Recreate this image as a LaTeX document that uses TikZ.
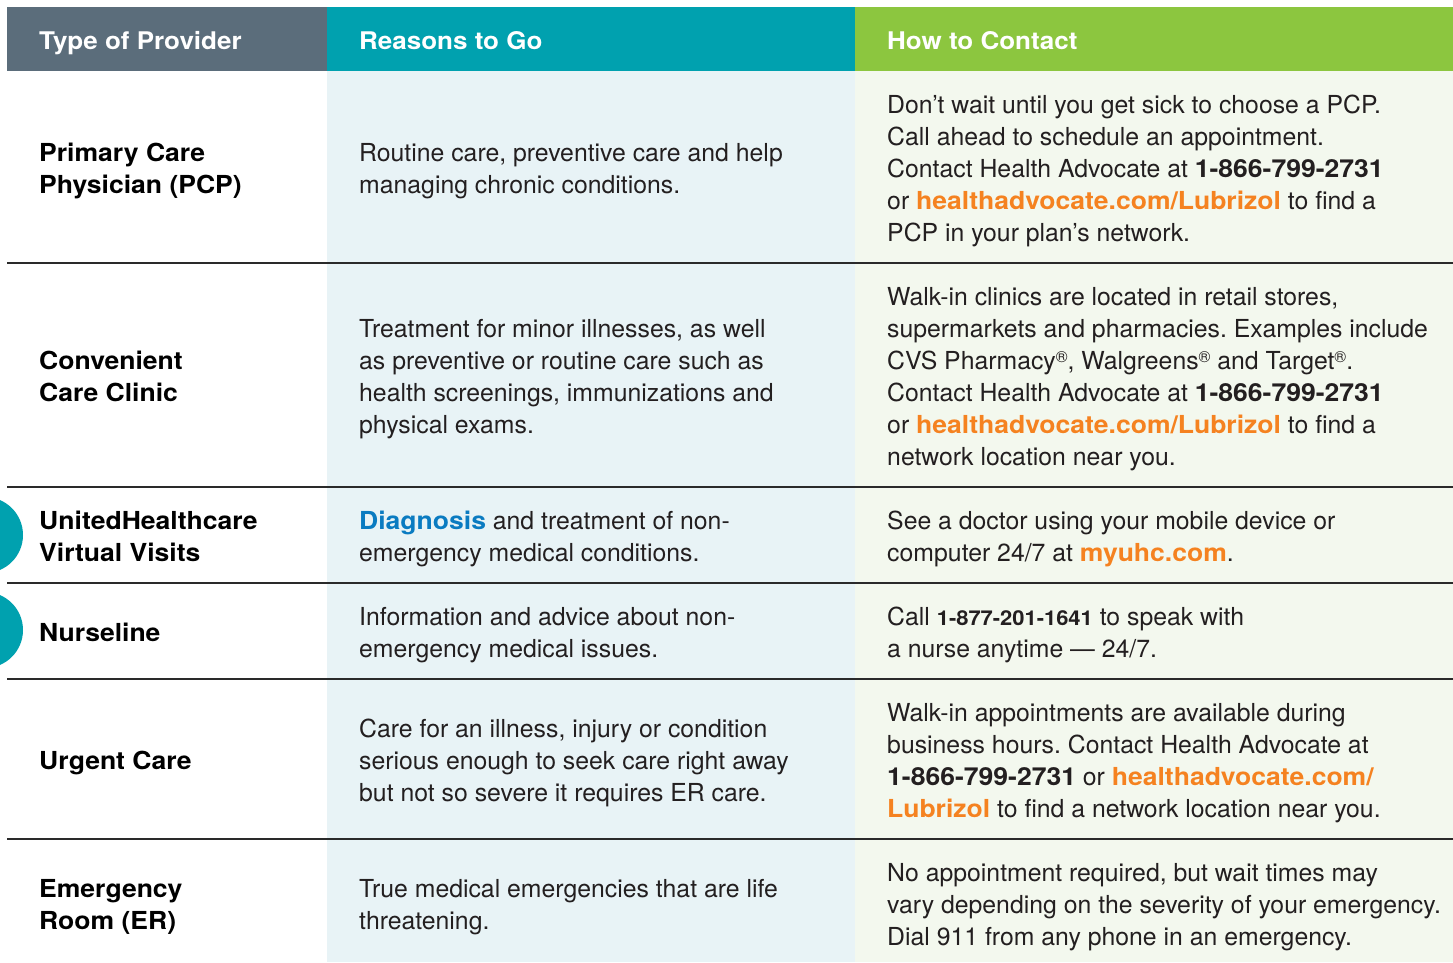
\documentclass[tikz,border=0pt]{standalone}
\usepackage{fontspec}
\setmainfont{TeX Gyre Heros}[BoldFeatures={FakeStretch=1.07}]
\definecolor{hdrgray}{HTML}{5B6D7B}
\definecolor{hdrteal}{HTML}{00A1AF}
\definecolor{hdrgreen}{HTML}{8CC63F}
\definecolor{midbg}{HTML}{E8F3F6}
\definecolor{rightbg}{HTML}{F3F8EE}
\definecolor{ink}{HTML}{231F20}
\definecolor{linkorange}{HTML}{F58220}
\definecolor{linkblue}{HTML}{0A7BC1}
\definecolor{rulecol}{HTML}{2A2A2A}
\frenchspacing
\newcommand{\fs}{\rule{0pt}{20pt}}
\newcommand{\org}[1]{\textcolor{linkorange}{\textbf{#1}}}
\newcommand{\regmark}{\raisebox{7pt}{\fontsize{16}{16}\selectfont ®}}
\tikzset{
  cell/.style={anchor=north west, inner sep=0pt, align=left, text=ink,
    font=\fontsize{24.8}{32}\selectfont},
  namecell/.style={cell, font=\fontsize{24.8}{32}\selectfont\bfseries, text=black},
  hdr/.style={anchor=base west, inner sep=0pt, text=white,
    font=\fontsize{24.3}{32}\selectfont\bfseries},
  rowrule/.style={draw=rulecol, line width=1.6pt},
}
\begin{document}
\begin{tikzpicture}[x=1pt,y=-1pt]
\useasboundingbox (0,0) rectangle (1453,962);
\fill[white] (0,0) rectangle (1453,962);
% column backgrounds
\fill[midbg] (327,71) rectangle (855,962);
\fill[rightbg] (855,71) rectangle (1453,962);
% header
\fill[hdrgray] (7,7) rectangle (327,71);
\fill[hdrteal] (327,7) rectangle (855,71);
\fill[hdrgreen] (855,7) rectangle (1453,71);
\node[hdr] (h1) at (39,49) {Type of Provider};
\node[hdr] (h2) at (359,49) {Reasons to Go};
\node[hdr] (h3) at (887,49) {How to Contact};
% row rules
\draw[rowrule] (7,263) -- (1453,263);
\draw[rowrule] (7,487) -- (1453,487);
\draw[rowrule] (7,583) -- (1453,583);
\draw[rowrule] (7,679) -- (1453,679);
\draw[rowrule] (7,839) -- (1453,839);
% side circles
\fill[hdrteal] (-15,535) circle (38);
\fill[hdrteal] (-15,630) circle (38);
% row 1
\node[namecell] (r1a) at (39,141) {\fs Primary Care\\Physician (PCP)};
\node[cell] (r1b) at (359,141) {\fs Routine care, preventive care and help\\managing chronic conditions.};
\node[cell] (r1c) at (887,93) {\fs Don’t wait until you get sick to choose a PCP.\\Call ahead to schedule an appointment.\\Contact Health Advocate at \textbf{1-866-799-2731}\\or \org{healthadvocate.com/Lubrizol} to find a\\PCP in your plan’s network.};
% row 2
\node[namecell] (r2a) at (39,349) {\fs Convenient\\Care Clinic};
\node[cell] (r2b) at (359,317) {\fs Treatment for minor illnesses, as well\\as preventive or routine care such as\\health screenings, immunizations and\\physical exams.};
\node[cell] (r2c) at (887,285) {\fs Walk-in clinics are located in retail stores,\\supermarkets and pharmacies. Examples include\\CVS Pharmacy\regmark, Walgreens\regmark{} and Target\regmark.\\Contact Health Advocate at \textbf{1-866-799-2731}\\or \org{healthadvocate.com/Lubrizol} to find a\\network location near you.};
% row 3
\node[namecell] (r3a) at (39,509) {\fs UnitedHealthcare\\Virtual Visits};
\node[cell] (r3b) at (359,509) {\fs \textcolor{linkblue}{\textbf{Diagnosis}} and treatment of non-\\emergency medical conditions.};
\node[cell] (r3c) at (887,509) {\fs See a doctor using your mobile device or\\computer 24/7 at \org{myuhc.com}.};
% row 4
\node[namecell] (r4a) at (39,621) {\fs Nurseline};
\node[cell] (r4b) at (359,605) {\fs Information and advice about non-\\emergency medical issues.};
\node[cell] (r4c) at (887,605) {\fs Call \textbf{\fontsize{20.5}{32}\selectfont 1-877-201-1641} to speak with\\a nurse anytime — 24/7.};
% row 5
\node[namecell] (r5a) at (39,749) {\fs Urgent Care};
\node[cell] (r5b) at (359,717) {\fs Care for an illness, injury or condition\\serious enough to seek care right away\\but not so severe it requires ER care.};
\node[cell] (r5c) at (887,701) {\fs Walk-in appointments are available during\\business hours. Contact Health Advocate at\\\textbf{1-866-799-2731} or \org{healthadvocate.com/}\\\org{Lubrizol} to find a network location near you.};
% row 6
\node[namecell] (r6a) at (39,877) {\fs Emergency\\Room (ER)};
\node[cell] (r6b) at (359,877) {\fs True medical emergencies that are life\\threatening.};
\node[cell] (r6c) at (887,861) {\fs No appointment required, but wait times may\\vary depending on the severity of your emergency.\\Dial 911 from any phone in an emergency.};
\end{tikzpicture}
\end{document}
